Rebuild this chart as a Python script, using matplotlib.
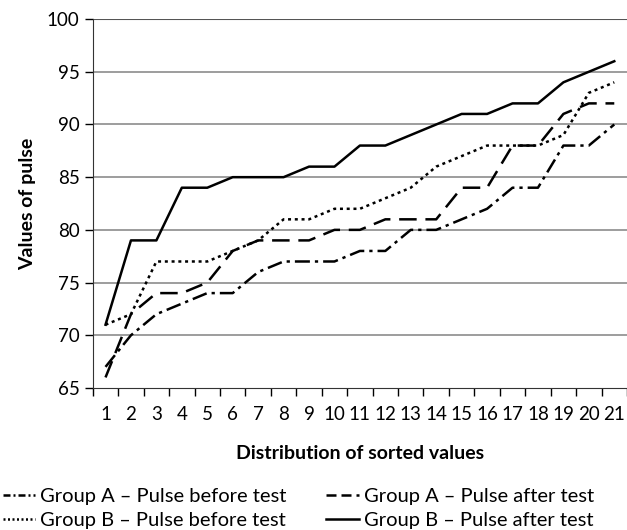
import matplotlib.pyplot as plt
from matplotlib.lines import Line2D
import numpy as np

plt.rcParams['font.family'] = ['Lato', 'DejaVu Sans']

positions = list(range(1, 22))
a_before = [67, 70, 72, 73, 74, 74, 76, 77, 77, 77, 78, 78, 80, 80, 81, 82, 84, 84, 88, 88, 90]
a_after = [66, 72, 74, 74, 75, 78, 79, 79, 79, 80, 80, 81, 81, 81, 84, 84, 88, 88, 91, 92, 92]
b_before = [71, 72, 77, 77, 77, 78, 79, 81, 81, 82, 82, 83, 84, 86, 87, 88, 88, 88, 89, 93, 94]
b_after = [71, 79, 79, 84, 84, 85, 85, 85, 86, 86, 88, 88, 89, 90, 91, 91, 92, 92, 94, 95, 96]
labels = ['Group A – Pulse before test', 'Group A – Pulse after test',
          'Group B – Pulse before test', 'Group B – Pulse after test']

fig = plt.figure(figsize=(6.27, 5.3), dpi=100)
ax = fig.add_axes([0.148, 0.268, 0.852, 0.696])

# grid first so the lines sit on top
for y in range(70, 101, 5):
    ax.axhline(y, color='#8c8c8c', lw=1.2, zorder=1)

lw = 1.8
styles = [(6, 2, 1.3, 2), (7, 3.5), (1.2, 1.5), None]
series = [a_before, a_after, b_before, b_after]
for vals, d in zip(series, styles):
    if d is None:
        ax.plot(positions, vals, color='black', lw=lw, zorder=3)
    else:
        ax.plot(positions, vals, color='black', lw=lw, dashes=d, zorder=3)

ax.set_xlim(0.5, 21.5)
ax.set_ylim(65, 100)
ax.set_yticks(range(65, 101, 5))
ax.set_xticks(positions)
ax.set_xticks(np.arange(0.5, 22, 1), minor=True)
ax.tick_params(axis='x', which='major', length=0, labelsize=13.5, pad=13)
ax.tick_params(axis='x', which='minor', length=6, width=1, direction='out')
ax.tick_params(axis='y', length=6, width=1, labelsize=13.5)
for s in ['top', 'right']:
    ax.spines[s].set_visible(False)
ax.spines['left'].set_color('#333333')
ax.spines['bottom'].set_color('#333333')
ax.axhline(100, color='#555555', lw=1.5, zorder=1)

ax.set_xlabel('Distribution of sorted values', fontsize=14, fontweight='bold', labelpad=16)
ax.set_ylabel('Values of pulse', fontsize=14, fontweight='bold', labelpad=8)

# shorter dash patterns for the legend keys
leg_styles = [(2.8, 1.2, 0.8, 1.2), (4, 2), (0.8, 1.0), None]
handles = []
for d in leg_styles:
    if d is None:
        handles.append(Line2D([], [], color='black', lw=lw))
    else:
        handles.append(Line2D([], [], color='black', lw=lw, dashes=d))

# ncol=2 fills column by column, so order handles to read row by row
order = [0, 2, 1, 3]
fig.legend([handles[i] for i in order], [labels[i] for i in order],
           loc='lower left', bbox_to_anchor=(0.004, 0.002), borderaxespad=0, borderpad=0,
           ncol=2, frameon=False, fontsize=14.5, handlelength=1.6, handletextpad=0.25,
           columnspacing=2.0, labelspacing=0.35)

fig.savefig('out.png', dpi=100)
